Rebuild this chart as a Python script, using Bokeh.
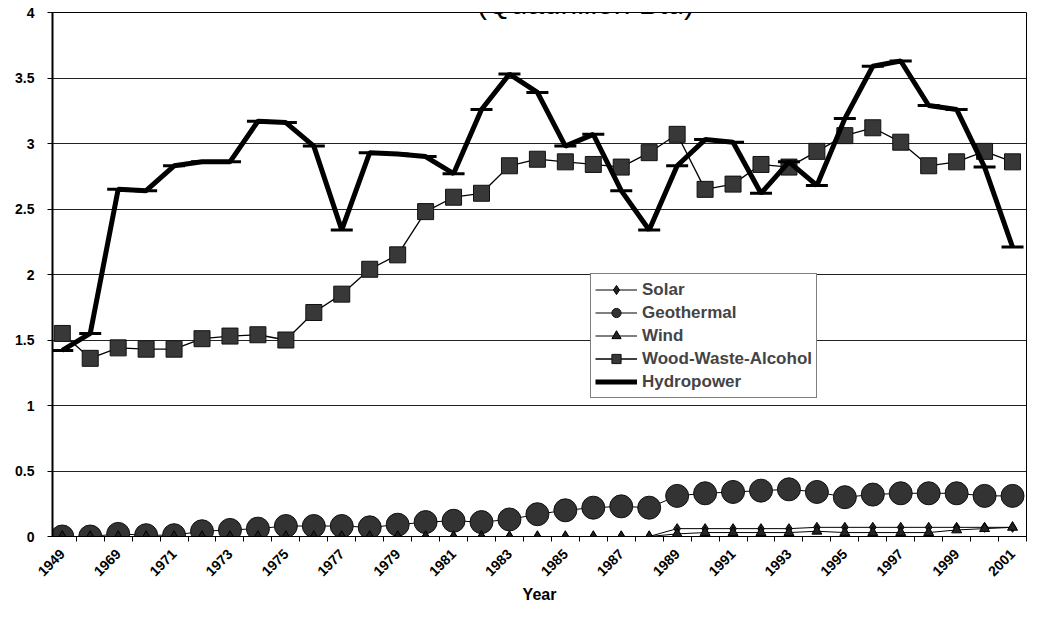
import math
from bokeh.plotting import figure
from bokeh.models import (FixedTicker, Legend, LegendItem, Label,
                          Range1d, NumeralTickFormatter)
from bokeh.embed import file_html
from bokeh.resources import INLINE

# ---- data ----
years = ["1949", "1960"] + [str(y) for y in range(1969, 2002)]
solar = [0.0] * 22 + [0.06, 0.06, 0.06, 0.06, 0.06, 0.07, 0.07, 0.07, 0.07, 0.07, 0.07, 0.07, 0.07]
geothermal = [0.0, 0.0, 0.02, 0.01, 0.01, 0.04, 0.05, 0.06, 0.08, 0.08, 0.08, 0.07, 0.09, 0.11,
              0.12, 0.11, 0.13, 0.17, 0.20, 0.22, 0.23, 0.22, 0.31, 0.33, 0.34, 0.35, 0.36, 0.34,
              0.30, 0.32, 0.33, 0.33, 0.33, 0.31, 0.31]
wind = [0.0] * 22 + [0.02, 0.03, 0.03, 0.03, 0.03, 0.04, 0.03, 0.03, 0.03, 0.03, 0.05, 0.06, 0.07]
wood = [1.55, 1.36, 1.44, 1.43, 1.43, 1.51, 1.53, 1.54, 1.50, 1.71, 1.85, 2.04, 2.15, 2.48,
        2.59, 2.62, 2.83, 2.88, 2.86, 2.84, 2.82, 2.93, 3.07, 2.65, 2.69, 2.84, 2.82, 2.94,
        3.06, 3.12, 3.01, 2.83, 2.86, 2.94, 2.86]
hydro = [1.42, 1.55, 2.65, 2.64, 2.83, 2.86, 2.86, 3.17, 3.16, 2.98, 2.34, 2.93, 2.92, 2.90,
         2.77, 3.26, 3.53, 3.39, 2.98, 3.07, 2.64, 2.34, 2.83, 3.03, 3.01, 2.62, 2.86, 2.68,
         3.19, 3.59, 3.63, 3.29, 3.26, 2.82, 2.21]
y_ticks = [0, 0.5, 1, 1.5, 2, 2.5, 3, 3.5, 4]
idx = list(range(len(years)))

FONT = "Liberation Sans"

p = figure(width=1032, height=605, output_backend="svg", toolbar_location=None,
           x_range=Range1d(-0.35, 34.5), y_range=Range1d(0, 4),
           min_border_left=52, min_border_right=6, min_border_top=12, min_border_bottom=64)
p.background_fill_color = "white"
p.border_fill_color = "white"
p.outline_line_color = "black"
p.outline_line_width = 1

# x axis
p.xaxis.ticker = FixedTicker(ticks=list(range(0, len(years), 2)),
                             minor_ticks=[i - 0.5 for i in range(len(years) + 1)])
p.xaxis.major_label_overrides = {i: years[i] for i in range(0, len(years), 2)}
p.xaxis.major_label_orientation = math.pi / 4
p.xaxis.major_tick_line_color = None
p.xaxis.major_tick_out = 0
p.xaxis.major_tick_in = 0
p.xaxis.minor_tick_out = 5
p.xaxis.minor_tick_in = 0
p.xaxis.minor_tick_line_color = "black"
p.xaxis.axis_line_color = "black"
p.xaxis.axis_line_width = 1
p.xaxis.major_label_text_font = FONT
p.xaxis.major_label_text_font_style = "bold"
p.xaxis.major_label_text_font_size = "14px"
p.xaxis.major_label_text_color = "black"
p.xaxis.major_label_standoff = 10
p.xaxis.axis_label = "Year"
p.xaxis.axis_label_text_font = FONT
p.xaxis.axis_label_text_font_style = "bold"
p.xaxis.axis_label_text_font_size = "16px"
p.xaxis.axis_label_text_color = "black"
p.xaxis.axis_label_standoff = 2

# y axis
p.yaxis.ticker = FixedTicker(ticks=y_ticks)
p.yaxis.formatter = NumeralTickFormatter(format="0.[0]")
p.yaxis.major_tick_out = 5
p.yaxis.major_tick_in = 0
p.yaxis.minor_tick_line_color = None
p.yaxis.axis_line_width = 2
p.yaxis.axis_line_color = "black"
p.yaxis.major_tick_line_color = "black"
p.yaxis.major_label_text_font = FONT
p.yaxis.major_label_text_font_style = "bold"
p.yaxis.major_label_text_font_size = "14px"
p.yaxis.major_label_text_color = "black"
p.yaxis.major_label_standoff = 13

p.xgrid.grid_line_color = None
p.ygrid.ticker = FixedTicker(ticks=y_ticks)
p.ygrid.grid_line_color = "#222222"
p.ygrid.grid_line_width = 1

# series
sl = p.line(idx, solar, line_color="black", line_width=1)
ss = p.scatter(idx, solar, marker="diamond", size=10, fill_color="#222222", line_color="black")
gl = p.line(idx, geothermal, line_color="black", line_width=1)
gs = p.scatter(idx, geothermal, marker="circle", size=23, fill_color="#333333", line_color="#111111")
wl = p.line(idx, wind, line_color="black", line_width=1)
ws = p.scatter(idx, wind, marker="triangle", size=10, fill_color="#222222", line_color="black")
dl = p.line(idx, wood, line_color="black", line_width=1.3)
ds = p.scatter(idx, wood, marker="square", size=16, fill_color="#383838", line_color="#111111")
hl = p.line(idx, hydro, line_color="black", line_width=5)
hs = p.scatter(idx, hydro, marker="dash", size=22, line_color="black", line_width=3)

legend = Legend(items=[
    LegendItem(label="Solar", renderers=[sl, ss]),
    LegendItem(label="Geothermal", renderers=[gl, gs]),
    LegendItem(label="Wind", renderers=[wl, ws]),
    LegendItem(label="Wood-Waste-Alcohol", renderers=[dl, ds]),
    LegendItem(label="Hydropower", renderers=[hl]),
], location=(538, 138))
legend.border_line_color = "black"
legend.border_line_width = 1
legend.background_fill_color = "white"
legend.background_fill_alpha = 1
legend.padding = 4
legend.spacing = 0
legend.margin = 0
legend.glyph_width = 42
legend.glyph_height = 23
legend.label_standoff = 5
legend.label_text_font = FONT
legend.label_text_font_style = "bold"
legend.label_text_font_size = "17px"
legend.label_height = 23
p.add_layout(legend)

# cut-off source note at the bottom right (a glyph-less legend entry)
note_r = p.scatter(x=[], y=[], size=0, fill_alpha=0, line_alpha=0)
note = Legend(items=[LegendItem(label="S", renderers=[note_r])], location=(962, -62))
note.border_line_color = None
note.background_fill_alpha = 0
note.padding = 0
note.margin = 0
note.spacing = 0
note.glyph_width = 0
note.glyph_height = 20
note.label_standoff = 0
note.label_text_font = FONT
note.label_text_font_size = "18px"
note.label_text_color = "#333333"
note.label_height = 20
p.add_layout(note)

# clipped chart title (canvas units)
p.add_layout(Label(x=585, y=3, x_units="canvas", y_units="canvas", text="(Quadrillion Btu)",
                   text_font=FONT, text_font_size="30px", text_align="center",
                   text_baseline="alphabetic", text_color="black"))

open("out.html", "w").write(file_html(p, INLINE))
